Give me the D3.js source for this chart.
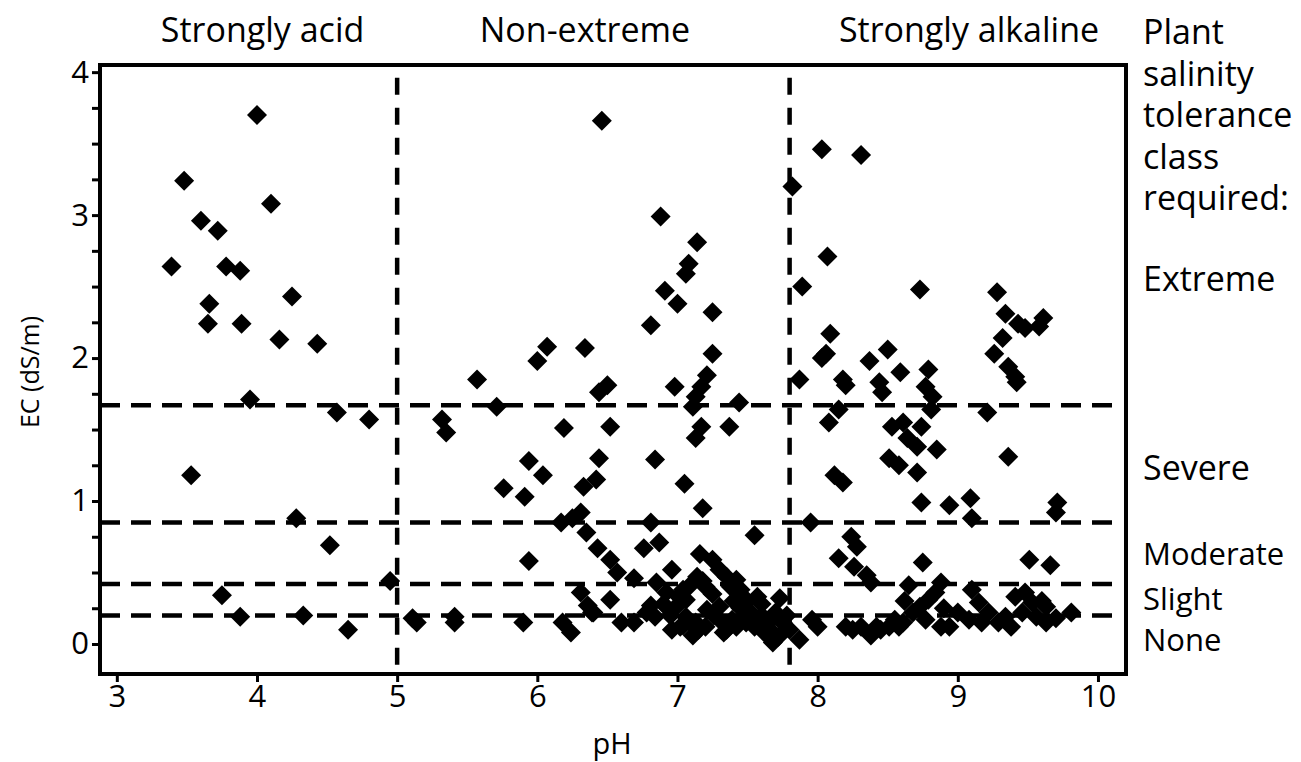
<!DOCTYPE html>
<html><head><meta charset="utf-8">
<script src="https://cdn.jsdelivr.net/npm/d3@7"></script>
<style>html,body{margin:0;padding:0;background:#fff;overflow:hidden;} text{font-family:"Open Sans","Noto Sans",sans-serif;fill:#000;}</style>
</head><body>
<svg id="chart" width="1301" height="762"></svg>
<script>
// pH class boundaries (vertical) and salinity tolerance thresholds (horizontal, EC dS/m)
const phBounds = [5, 7.8];
const ecThresholds = [1.67, 0.85, 0.42, 0.2];
const phClassLabels = ["Strongly acid", "Non-extreme", "Strongly alkaline"];
const phClassCenters = [4.04, 6.34, 9.08];
const toleranceHeader = ["Plant", "salinity", "tolerance", "class", "required:"];
const toleranceLabels = ["Extreme", "Severe", "Moderate", "Slight", "None"];
const toleranceLabelEC = [2.55, 1.23, 0.625, 0.315, 0.025];
const xTicks = [3, 4, 5, 6, 7, 8, 9, 10];
const yTicks = [0, 1, 2, 3, 4];

// samples [pH, EC]
const acidSamples = [[3.39,2.64],[3.48,3.24],[3.60,2.96],[3.72,2.89],[3.78,2.64],[3.88,2.61],[3.66,2.38],[3.65,2.24],[3.89,2.24],[4.00,3.70],[4.10,3.08],[4.16,2.13],[4.25,2.43],[4.43,2.10],[3.95,1.71],[4.57,1.62],[4.80,1.57],[3.53,1.18],[4.28,0.88],[4.52,0.69],[3.75,0.34],[3.88,0.19],[4.33,0.20],[4.65,0.10],[4.95,0.44]];
const neutralSamples = [[6.46,3.66],[6.88,2.99],[7.14,2.81],[7.08,2.66],[7.06,2.59],[6.91,2.47],[7.00,2.38],[7.25,2.32],[6.81,2.23],[6.07,2.08],[6.00,1.98],[6.34,2.07],[7.25,2.03],[7.21,1.88],[5.57,1.85],[6.50,1.81],[6.44,1.76],[6.98,1.80],[7.17,1.80],[7.13,1.73],[7.11,1.66],[7.44,1.69],[5.71,1.66],[5.32,1.57],[5.35,1.48],[6.19,1.51],[6.52,1.52],[7.17,1.52],[7.13,1.44],[7.37,1.52],[5.94,1.28],[6.44,1.30],[6.84,1.29],[6.04,1.18],[5.76,1.09],[5.91,1.03],[6.42,1.15],[6.33,1.10],[7.05,1.12],[7.18,0.95],
[6.17,0.85],[6.25,0.88],[6.31,0.92],[6.35,0.78],[6.43,0.67],[6.52,0.59],[6.57,0.50],[6.81,0.85],[6.87,0.71],[6.76,0.67],[7.55,0.76],[5.94,0.58],[7.16,0.63],[7.25,0.59],[7.30,0.52],[7.35,0.47],[7.42,0.45],[6.96,0.52],[6.69,0.46],[6.85,0.43],[6.31,0.36],[6.52,0.31],[6.36,0.27],[6.39,0.22],[5.11,0.18],[5.14,0.15],[5.41,0.19],[5.41,0.15],[5.90,0.15],[6.18,0.15],[6.24,0.08],[6.60,0.15],[6.69,0.15],[6.78,0.22],[6.81,0.27],[6.84,0.19],[6.92,0.36],[7.01,0.33],[7.04,0.38],[6.99,0.26],[7.06,0.19],[7.11,0.06],[7.09,0.15],[7.21,0.24],[7.30,0.17],[7.33,0.08],[7.39,0.17],[7.49,0.15],[7.57,0.33],[7.65,0.15],[7.68,0.01],[7.73,0.32],[7.75,0.15],[7.80,0.10],[7.06,0.31],[7.13,0.15],[7.30,0.26],[7.35,0.10],[7.49,0.19],
[7.20,0.40],[7.25,0.35],[7.40,0.30],[7.45,0.25],[7.52,0.22],[7.55,0.12],[7.60,0.20],[7.62,0.08],[7.70,0.22],[7.72,0.05],[7.15,0.10],[7.20,0.12],[7.26,0.20],[7.42,0.12],[7.45,0.38],[7.38,0.40],[7.50,0.30],[7.60,0.28],[7.66,0.10],[7.78,0.20],[7.02,0.12],[6.95,0.20],[6.90,0.28],[7.08,0.40],[7.14,0.47],[7.18,0.44],[6.40,0.22],[7.04,0.13],[6.96,0.10]];
const alkalineSamples = [[7.82,3.20],[8.03,3.46],[8.31,3.42],[8.07,2.71],[7.89,2.50],[8.73,2.48],[9.28,2.46],[9.34,2.31],[9.43,2.24],[9.48,2.21],[9.61,2.28],[9.58,2.22],[9.32,2.14],[9.26,2.03],[9.36,1.94],[9.41,1.87],[8.09,2.17],[8.06,2.03],[8.03,2.00],[8.37,1.98],[8.50,2.06],[8.59,1.90],[8.79,1.92],[7.87,1.85],[8.20,1.81],[8.18,1.85],[8.44,1.83],[8.46,1.76],[8.77,1.80],[8.82,1.73],[8.81,1.64],[9.42,1.83],[8.15,1.64],[8.08,1.55],[9.21,1.62],[8.53,1.52],[8.61,1.55],[8.74,1.52],[8.64,1.44],[8.71,1.38],[8.85,1.36],[8.51,1.30],[8.58,1.25],[8.71,1.20],[9.36,1.31],[8.12,1.18],[8.18,1.13],[8.74,0.99],[8.94,0.97],[9.09,1.02],[9.10,0.88],[9.71,0.99],[9.70,0.92],
[7.95,0.85],[8.24,0.75],[8.28,0.68],[8.15,0.60],[8.26,0.54],[8.35,0.48],[8.38,0.43],[8.75,0.57],[9.51,0.59],[9.66,0.55],[8.65,0.41],[8.88,0.43],[7.87,0.03],[7.96,0.17],[8.00,0.12],[8.20,0.12],[8.31,0.12],[8.38,0.06],[8.51,0.12],[8.61,0.15],[8.68,0.22],[8.73,0.26],[8.79,0.31],[8.84,0.36],[8.77,0.17],[8.88,0.12],[8.94,0.12],[9.10,0.38],[9.15,0.29],[9.08,0.17],[9.17,0.15],[9.34,0.19],[9.41,0.33],[9.48,0.36],[9.53,0.29],[9.46,0.22],[9.56,0.19],[9.63,0.15],[9.63,0.26],[9.81,0.22],[9.29,0.15],[8.45,0.10],[8.55,0.17],[9.22,0.22],[9.00,0.22],[9.38,0.12],[9.60,0.30],[9.70,0.18],[8.62,0.30],[8.90,0.25],[8.25,0.10],[8.42,0.12],[8.58,0.12]];

const svg = d3.select("#chart");
const x = d3.scaleLinear().domain([2.88, 10.2]).range([100, 1126]);
const y = d3.scaleLinear().domain([-0.21, 4.05]).range([674, 65]);

// reference lines
svg.append("g").selectAll("line").data(ecThresholds).join("line")
  .attr("x1", x.range()[0]).attr("x2", x.range()[1] - 4)
  .attr("y1", d => y(d)).attr("y2", d => y(d))
  .attr("stroke", "#000").attr("stroke-width", 4.5).attr("stroke-dasharray", "20,11");
svg.append("g").selectAll("line").data(phBounds).join("line")
  .attr("x1", d => x(d)).attr("x2", d => x(d))
  .attr("y1", y(3.96)).attr("y2", y.range()[0])
  .attr("stroke", "#000").attr("stroke-width", 4.5).attr("stroke-dasharray", "17,13");

// points
const sym = d3.symbol(d3.symbolSquare, 200);
const all = acidSamples.concat(neutralSamples, alkalineSamples);
svg.append("g").selectAll("path").data(all).join("path")
  .attr("d", sym)
  .attr("transform", d => `translate(${x(d[0])},${y(d[1])}) rotate(45)`)
  .attr("fill", "#000");

// frame
svg.append("rect").attr("x", x.range()[0]).attr("y", y.range()[1])
  .attr("width", x.range()[1] - x.range()[0]).attr("height", y.range()[0] - y.range()[1])
  .attr("fill", "none").attr("stroke", "#000").attr("stroke-width", 4);

// axes
const yAxis = d3.axisLeft(y).tickValues(d3.range(0, 4.01, 0.25)).tickSize(7)
  .tickFormat(d => yTicks.includes(d) ? d : "");
const gy = svg.append("g").attr("transform", `translate(${x.range()[0] - 1},0)`).call(yAxis)
  .attr("font-size", 31).attr("font-family", "Open Sans");
gy.select(".domain").remove();
gy.selectAll(".tick line").attr("stroke-width", 3);
gy.selectAll(".tick text").attr("x", -10);

const xAxis = d3.axisBottom(x).tickValues(xTicks).tickSize(7).tickFormat(d3.format("d"));
const gx = svg.append("g").attr("transform", `translate(0,${y.range()[0] + 1})`).call(xAxis)
  .attr("font-size", 31).attr("font-family", "Open Sans");
gx.select(".domain").remove();
gx.selectAll(".tick line").attr("stroke-width", 3);
gx.selectAll(".tick text").attr("y", 10);

// axis titles
svg.append("text").attr("x", 612).attr("y", 754).attr("text-anchor", "middle").attr("font-size", 29).text("pH");
svg.append("text").attr("transform", "translate(39,372) rotate(-90)").attr("text-anchor", "middle").attr("font-size", 25).text("EC (dS/m)");

// class labels on top
svg.append("g").selectAll("text").data(phClassLabels).join("text")
  .attr("x", (d, i) => x(phClassCenters[i])).attr("y", 42)
  .attr("text-anchor", "middle").attr("font-size", 34).text(d => d);

// right-side labels
svg.append("g").selectAll("text").data(toleranceHeader).join("text")
  .attr("x", 1143).attr("y", (d, i) => 44 + i * 41.5).attr("font-size", 34).text(d => d);
svg.append("g").selectAll("text").data(toleranceLabels).join("text")
  .attr("x", 1143).attr("y", (d, i) => y(toleranceLabelEC[i]))
  .attr("dy", "0.35em").attr("font-size", (d, i) => i < 2 ? 34 : 31).text(d => d);
</script>
</body></html>
